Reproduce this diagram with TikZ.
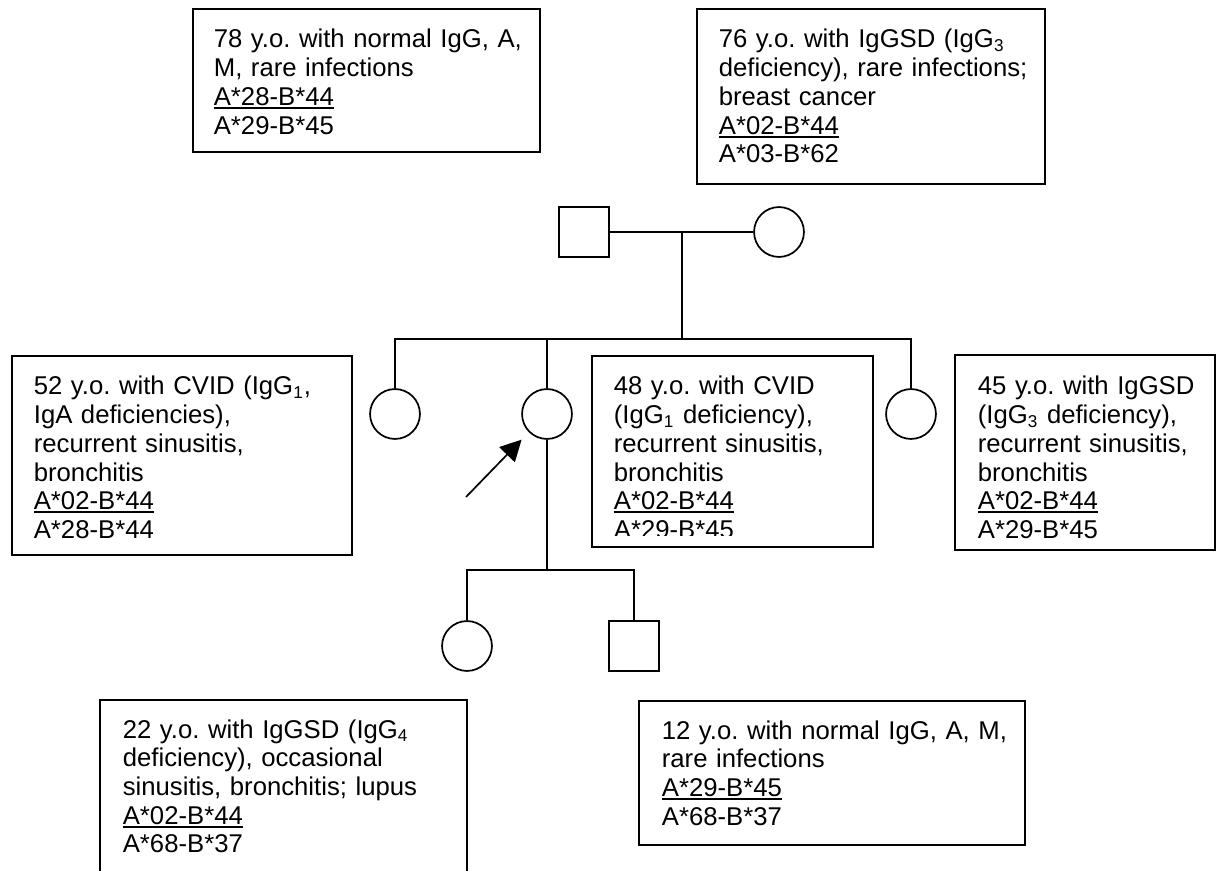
\documentclass[tikz,border=0pt]{standalone}
\usepackage{fontspec}
\setmainfont{Liberation Sans}
\usepackage{tikz}
\usetikzlibrary{arrows.meta,positioning,calc,fit}
\frenchspacing

% haplotype souligné
\newcommand{\hapl}[1]{\leavevmode\vtop{\hbox{#1}\kern0.6pt\hrule height 0.9pt}}

\begin{document}
\begin{tikzpicture}[x=0.467pt, y=-0.467pt, line width=0.8pt,
    female/.style={circle, draw, minimum size=23.3pt, inner sep=0pt},
    male/.style={rectangle, draw, minimum size=23.3pt, inner sep=0pt},
    infobox/.style={rectangle, draw, inner sep=0pt},
    infotext/.style={anchor=base west, inner sep=0pt, text width=200pt, align=left,
        font=\fontsize{12}{13.4}\selectfont}]
    \useasboundingbox (0,0) rectangle (1223,871);

    % Individus
    \foreach \x/\y/\name in {779/232/gm, 395/414/sa, 547/414/pro, 911/414/sb, 467/646/da} {
        \node[female] (\name) at (\x,\y) {};
    }
    \foreach \x/\y/\name in {584/232/gf, 634/646/so} {
        \node[male] (\name) at (\x,\y) {};
    }

    % Liens
    \coordinate (mar) at (682,232);
    \coordinate (sib) at (682,339);
    \coordinate (kid) at (547,570);
    \coordinate (arr) at (466,497);
    \draw (gf) -- (gm);
    \draw (mar) -- (sib);
    \draw (sa.north) |- (sib) -| (sb.north);
    \draw (pro.north) -- (pro.north |- sib);
    \draw (pro.south) -- (kid);
    \draw (da.north) |- (kid) -| (so.north);
    \draw[-{Triangle[length=9.8pt,width=10pt]}, shorten >=4.8pt] (arr) -- (pro.225);

    % Cadres
    \node[infobox, fit={(193,9) (540,152)}] (gfbox) {};
    \node[infobox, fit={(697,9) (1045,184)}] (gmbox) {};
    \node[infobox, fit={(12,356) (352,555)}] (sabox) {};
    \node[infobox, fit={(592,356) (873,547)}] (probox) {};
    \node[infobox, fit={(955,355) (1215,550)}] (sbbox) {};
    \node[infobox, fit={(100,700) (467,900)}] (dabox) {};
    \node[infobox, fit={(639,701) (1025,845)}] (sobox) {};

    % Textes
    \node[infotext] (gftxt) at (213,48) {78 y.o. with normal IgG, A,\\ M, rare infections\\
        \hapl{A*28-B*44}\\ A*29-B*45};
    \node[infotext] (gmtxt) at (718,48) {76 y.o. with IgGSD (IgG\textsubscript{3}\\
        deficiency), rare infections;\\ breast cancer\\ \hapl{A*02-B*44}\\ A*03-B*62};
    \node[infotext] (satxt) at (33,395) {52 y.o. with CVID (IgG\textsubscript{1},\\
        IgA deficiencies),\\ recurrent sinusitis,\\ bronchitis\\ \hapl{A*02-B*44}\\ A*28-B*44};
    \begin{scope}
        \clip (592,356) rectangle (873,535);
        \node[infotext] (protxt) at (613,395) {48 y.o. with CVID\\ (IgG\textsubscript{1} deficiency),\\
            recurrent sinusitis,\\ bronchitis\\ \hapl{A*02-B*44}\\ A*29-B*45};
    \end{scope}
    \node[infotext] (sbtxt) at (977,395) {45 y.o. with IgGSD\\ (IgG\textsubscript{3} deficiency),\\
        recurrent sinusitis,\\ bronchitis\\ \hapl{A*02-B*44}\\ A*29-B*45};
    \node[infotext] (datxt) at (122,738) {22 y.o. with IgGSD (IgG\textsubscript{4}\\
        deficiency), occasional\\ sinusitis, bronchitis; lupus\\ \hapl{A*02-B*44}\\ A*68-B*37};
    \node[infotext] (sotxt) at (661,739) {12 y.o. with normal IgG, A, M,\\ rare infections\\
        \hapl{A*29-B*45}\\ A*68-B*37};
\end{tikzpicture}
\end{document}
